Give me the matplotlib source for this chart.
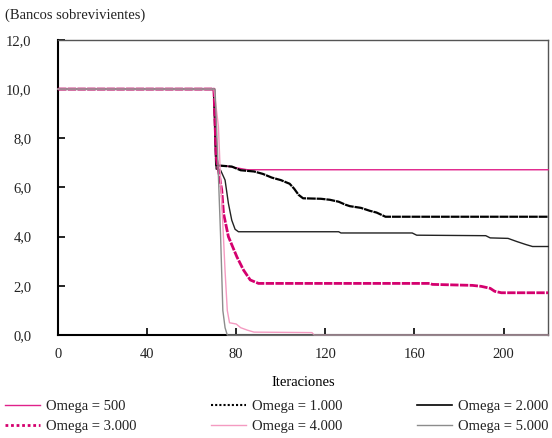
import numpy as np
import matplotlib
matplotlib.use("Agg")
import matplotlib.pyplot as plt
from matplotlib.lines import Line2D

plt.rcParams['font.family'] = ['Liberation Serif', 'DejaVu Serif']
plt.rcParams['font.size'] = 10.5
plt.rcParams['text.color'] = '#222222'

# series (iteration, surviving banks)
it_500 = [0, 70, 71, 75, 80, 85, 220]
val_500 = [10, 10, 6.9, 6.88, 6.8, 6.72, 6.72]

it_1000 = [0, 70, 71, 78, 82, 88, 92, 96, 100, 104, 106, 108, 110, 118, 122,
           126, 129, 131, 136, 140, 143, 147, 220]
val_1000 = [10, 10, 6.9, 6.85, 6.7, 6.65, 6.55, 6.4, 6.3, 6.15, 5.95, 5.7, 5.56,
            5.54, 5.5, 5.42, 5.3, 5.24, 5.17, 5.05, 4.98, 4.81, 4.81]

it_2000 = [0, 70, 71, 73, 75, 76.5, 78, 79.5, 81, 126, 127, 159, 161, 192, 194,
           202, 206, 210, 213, 220]
val_2000 = [10, 10, 6.75, 6.7, 6.3, 5.35, 4.67, 4.3, 4.2, 4.2, 4.15, 4.15, 4.06,
            4.04, 3.95, 3.93, 3.8, 3.68, 3.6, 3.6]

it_3000 = [0, 70, 71, 73.5, 74.3, 76.5, 80.3, 83.3, 86.3, 90, 167, 168, 186,
           190, 194, 196, 199, 220]
val_3000 = [10, 10, 7.25, 5.9, 4.95, 4.0, 3.18, 2.64, 2.24, 2.1, 2.1, 2.06, 2.02,
            1.98, 1.9, 1.78, 1.72, 1.72]

it_4000 = [0, 70, 72, 73, 74, 75, 76, 77, 80, 82, 85, 88, 114, 115, 220]
val_4000 = [10, 10, 8.5, 6.3, 4.5, 2.6, 1.0, 0.5, 0.45, 0.3, 0.2, 0.12, 0.1, 0.0, 0.0]

it_5000 = [0, 70.5, 72, 73, 74, 75, 76, 220]
val_5000 = [10, 10, 6.5, 4.0, 1.0, 0.3, 0.0, 0.0]

y_ticks = [0, 2, 4, 6, 8, 10, 12]
y_labels = ['0,0', '2,0', '4,0', '6,0', '8,0', '10,0', '12,0']
x_ticks = [0, 40, 80, 120, 160, 200]

c_500 = '#E0218A'
c_3000 = '#D4006E'
c_4000 = '#F49AC1'
c_5000 = '#8C8C8C'

fig = plt.figure(figsize=(5.52, 4.38), dpi=100)
ax = fig.add_axes([0.105, 0.235, 0.888, 0.674])

kw = dict(clip_on=False, zorder=3)
ax.plot(it_500, val_500, color=c_500, lw=1.0, **kw)
ax.plot(it_1000, val_1000, color='black', lw=1.6, ls=(0, (4, 0.4)), **kw)
ax.plot(it_2000, val_2000, color='#222222', lw=1.0, **kw)
ax.plot(it_3000, val_3000, color=c_3000, lw=2.0, ls=(0, (3, 0.5)), **kw)
ax.plot(it_4000, val_4000, color=c_4000, lw=1.0, **kw)
ax.plot(it_5000, val_5000, color=c_5000, lw=1.0, **kw)

ax.set_xlim(0, 220)
ax.set_ylim(0, 12)
ax.set_xticks(x_ticks)
ax.set_yticks(y_ticks)
ax.set_yticklabels(y_labels)
ax.tick_params(axis='both', direction='in', length=5, width=1.2,
               color='black', labelcolor='#222222')
ax.tick_params(axis='y', pad=19)
ax.tick_params(axis='x', pad=9)
for s in ['left', 'bottom']:
    ax.spines[s].set_linewidth(1.5)
    ax.spines[s].set_color('black')
for s in ['top', 'right']:
    ax.spines[s].set_linewidth(1.0)
    ax.spines[s].set_color('#555555')

ax.set_xlabel('Iteraciones', labelpad=11)
fig.text(0.009, 0.966, '(Bancos sobrevivientes)', ha='left', va='center')

# legend, filled row-wise like the original
handles = [
    Line2D([], [], color=c_500, lw=1.0),
    Line2D([], [], color=c_3000, lw=2.0, ls=(0, (1, 1))),
    Line2D([], [], color='black', lw=1.5, ls=(0, (1, 1))),
    Line2D([], [], color=c_4000, lw=1.0),
    Line2D([], [], color='black', lw=1.2),
    Line2D([], [], color=c_5000, lw=1.0),
]
labels = ['Omega = 500', 'Omega = 3.000', 'Omega = 1.000',
          'Omega = 4.000', 'Omega = 2.000', 'Omega = 5.000']
fig.legend(handles, labels, ncol=3, mode='expand', frameon=False,
           bbox_to_anchor=(0.009, 0.012, 0.984, 0.12), loc='lower left',
           handlelength=2.4, handletextpad=0.4, labelspacing=0.45,
           borderaxespad=0, borderpad=0)

fig.savefig('out.png', dpi=100)
